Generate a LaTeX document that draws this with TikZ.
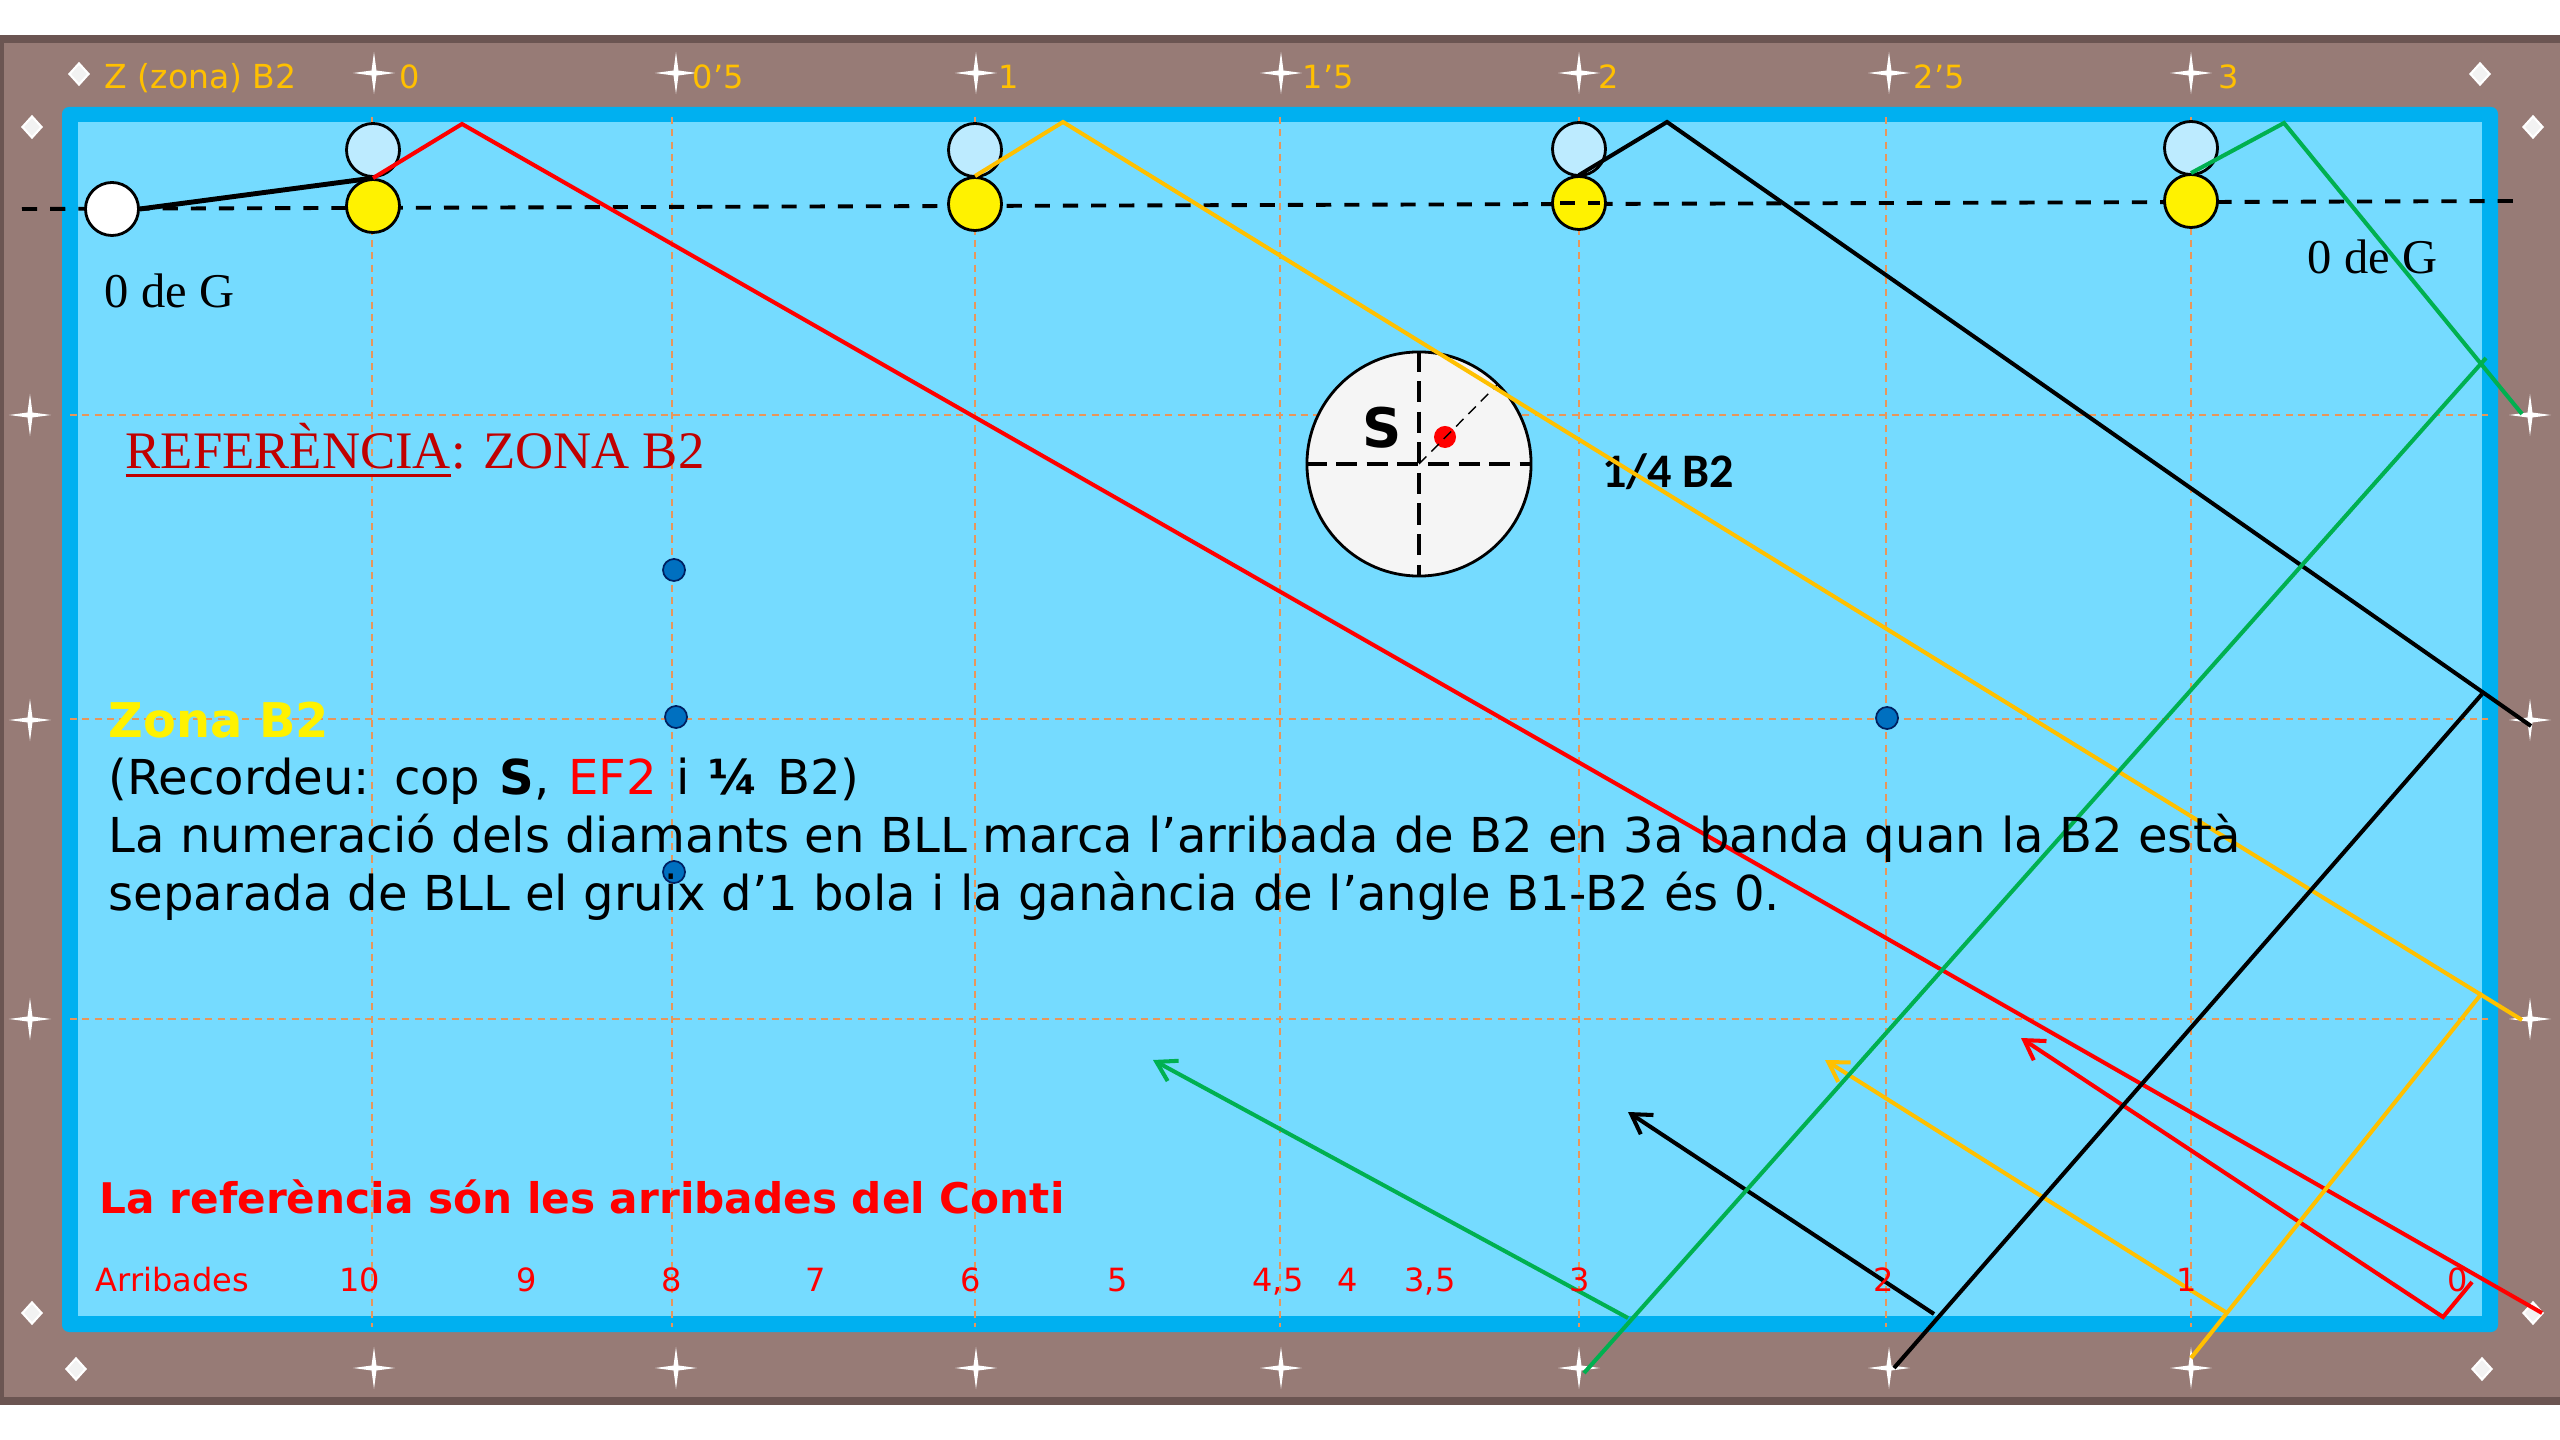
\documentclass[tikz,border=0pt]{standalone}
\usepackage{fontspec}
\setmainfont{DejaVu Sans}
\newfontfamily\timesfont{Liberation Serif}
\newfontfamily\calibrifont{Carlito}
\usetikzlibrary{shapes.geometric,arrows.meta}
\definecolor{figWood}{HTML}{977B76}
\definecolor{figEdge}{HTML}{6B5552}
\definecolor{figRail}{HTML}{00B0F0}
\definecolor{figCloth}{HTML}{75DBFF}
\definecolor{figPale}{HTML}{BDEBFF}
\definecolor{figGuide}{HTML}{E8965A}
\definecolor{figGold}{HTML}{FFC000}
\definecolor{figGreen}{HTML}{00B050}
\definecolor{figDot}{HTML}{0070C0}
\definecolor{figDotEdge}{HTML}{002060}
\definecolor{figTitle}{HTML}{C00000}
\newcommand{\thickunder}[1]{\setbox0=\hbox{#1}\rlap{\vrule width\wd0 height -1.4pt depth 2.4pt}\box0}
\tikzset{
  guide/.style={figGuide, line width=0.45pt, dash pattern=on 2pt off 1.5pt},
  sparkle/.style={shape=star, star points=4, star point ratio=6, fill=white, inner sep=0pt, minimum size=0.42cm},
  rhomb/.style={shape=diamond, draw=white, line width=0.6pt, fill=white!95!black, inner sep=0pt, minimum width=0.2cm, minimum height=0.22cm},
  ball/.style={circle, draw=black, line width=0.8pt, inner sep=0pt, minimum size=0.53cm},
  spot/.style={circle, draw=figDotEdge, line width=0.5pt, fill=figDot, inner sep=0pt, minimum size=0.22cm},
  track/.style={line width=1.15pt, line join=miter},
  back/.style={track, -{Straight Barb[length=1.9mm,width=2.3mm]}},
  baseline/.style={line width=1.1pt, dash pattern=on 4.3pt off 3.7pt},
  toplabel/.style={anchor=base west, text=figGold, font=\fontsize{9.1}{11}\selectfont, inner sep=0pt},
  arrival/.style={anchor=base, text=red, font=\fontsize{9.1}{11}\selectfont, inner sep=0pt},
  bodytext/.style={anchor=base west, font=\fontsize{13.68}{16}\selectfont, inner sep=0pt},
  serif/.style={anchor=base west, font=\timesfont\fontsize{13.8}{16}\selectfont, inner sep=0pt}
}
\begin{document}
\begin{tikzpicture}[x=0.01cm,y=-0.01cm]
        \useasboundingbox (0,0) rectangle (2560,1440);
        \fill[figEdge](0,35) rectangle (2560,1405);
        \fill[figWood](4,43) rectangle (2560,1397);
        \fill[figRail, rounded corners=2pt](62,107) rectangle (2498,1332);
        \fill[figCloth](78,122) rectangle (2482,1316);
        % guides
        \foreach \gx in {372,672,975,1280,1579,1886,2191}
          \draw[guide](\gx,117)--(\gx,1327);
        \foreach \gy in {415,719,1019}
          \draw[guide](70,\gy)--(2488,\gy);
        % diamonds of the rail
        \foreach \sx [count=\si] in {374,676,976,1281,1579,1889,2191}{
          \node[sparkle] (top\si) at (\sx,73){};
          \node[sparkle] (bot\si) at (\sx,1368){};
        }
        \foreach \sy [count=\si] in {415,720,1019}{
          \node[sparkle] (lft\si) at (30,\sy){};
          \node[sparkle] (rgt\si) at (2530,\sy){};
        }
        \node[rhomb] (cornerA) at (79,74){};
        \node[rhomb] (cornerB) at (32,127){};
        \node[rhomb] (cornerC) at (2480,74){};
        \node[rhomb] (cornerD) at (2533,127){};
        \node[rhomb] (cornerE) at (32,1313){};
        \node[rhomb] (cornerF) at (76,1369){};
        \node[rhomb] (cornerG) at (2482,1369){};
        \node[rhomb] (cornerH) at (2533,1313){};
        % labels of the top rail
        \node[toplabel, font=\fontsize{9.4}{11}\selectfont] (zone) at (104,89){Z (zona) B2};
        \foreach \lx/\ltext [count=\si] in {399/0,692/0’5,998/1,1302/1’5,1598/2,1913/2’5,2218/3}
          \node[toplabel] (mark\si) at (\lx,89){\ltext};
        % baseline of the balls
        \draw[baseline](22,209)--(2519,201);
        \node[spot] (spotA) at (674,570){};
        \node[spot] (spotB) at (676,717){};
        \node[spot] (spotC) at (674,872){};
        \node[spot] (spotD) at (1887,718){};
        \node[ball, fill=white] (cue) at (112,209){};
        \node[ball, fill=figPale] (paleA) at (373,150){};
        \node[ball, fill=figPale] (paleB) at (975,150){};
        \node[ball, fill=figPale] (paleC) at (1579,149){};
        \node[ball, fill=figPale] (paleD) at (2191,148){};
        \node[ball, fill=yellow] (ballA) at (373,206){};
        \node[ball, fill=yellow] (ballB) at (975,204){};
        \node[ball, fill=yellow] (ballC) at (1579,203){};
        \node[ball, fill=yellow] (ballD) at (2191,201){};
        \draw[baseline](1560,203)--(1600,203);
        \draw[line width=1.4pt](cue.east)--(ballA.north);
        % the spin circle
        \node[circle, draw=black, line width=0.8pt, fill=white!96!black, inner sep=0pt, minimum size=2.24cm] (spin) at (1419,464){};
        \draw[line width=0.9pt, dash pattern=on 6pt off 2.7pt](spin.west)--(spin.east);
        \draw[line width=0.9pt, dash pattern=on 6pt off 2.7pt](spin.north)--(spin.south);
        \node[circle, fill=red, inner sep=0pt, minimum size=0.22cm] (hit) at (1445,437){};
        \draw[line width=0.4pt, dash pattern=on 3pt off 2pt](spin.center)--(1497,385);
        \node[font=\bfseries\fontsize{15.5}{18}\selectfont, inner sep=0pt] (spinS) at (1382,428){S};
        \node[font=\calibrifont\bfseries\fontsize{13.7}{16}\selectfont, inner sep=0pt] (quarter) at (1668,472){1/4 B2};
        % tracks
        \draw[track, red](ballA.north)--(462,124)--(2542,1313);
        \draw[back, red](2472,1282)--(2443,1317)--(2021,1038);
        \draw[track, figGold](ballB.north)--(1063,122)--(2522,1020);
        \draw[track, figGold](2191,1358)--(2482,993);
        \draw[back, figGold](2227,1313)--(1825,1060);
        \draw[track](ballC.north)--(1667,122)--(2531,726);
        \draw[track](2482,694)--(1894,1368);
        \draw[back](1934,1314)--(1628,1112);
        \draw[track, figGreen](ballD.north)--(2284,123)--(2522,414);
        \draw[track, figGreen](2486,358)--(1584,1373);
        \draw[back, figGreen](1628,1318)--(1153,1060);
        % texts
        \node[serif] (zeroA) at (104,308){0 de G};
        \node[serif] (zeroB) at (2307,274){0 de G};
        \node[serif, text=figTitle, font=\timesfont\fontsize{15}{18}\selectfont] (title) at (125,469){\thickunder{REFERÈNCIA}: ZONA B2};
        \node[bodytext, text=yellow, font=\bfseries\fontsize{13.6}{16}\selectfont] (zonaB) at (108,738){Zona B2};
        \node[bodytext] (lineA) at (108,795){\spaceskip=5.4pt (Recordeu: cop \textbf{S}, \textcolor{red}{EF2} i \textbf{¼} B2)};
        \node[bodytext] (lineB) at (108,853){La numeració dels diamants en BLL marca l’arribada de B2 en 3a banda quan la B2 està};
        \node[bodytext] (lineC) at (108,910){separada de BLL el gruix d’1 bola i la ganància de l’angle B1-B2 és 0.};
        \node[bodytext, text=red, font=\bfseries\fontsize{12}{15}\selectfont] (refer) at (99,1213){La referència són les arribades del Conti};
        \node[arrival, anchor=base west] (arrive) at (95,1291){Arribades};
        \foreach \ax/\atext [count=\si] in {360/10,527/9,672/8,816/7,971/6,1118/5,1278/{4,5},1348/4,1430/{3,5},1580/3,1884/2,2187/1,2458/0}
          \node[arrival] (num\si) at (\ax,1291){\atext};
      \end{tikzpicture}
\end{document}
